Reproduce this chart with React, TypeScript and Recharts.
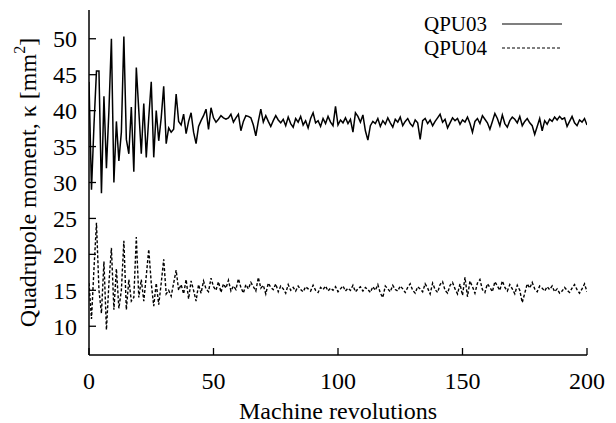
import React from 'react';
import { LineChart, Line, XAxis, YAxis, Label } from 'recharts';

const FONT = '"Liberation Serif", "Times New Roman", Times, serif';
const FS = 24;

const xTicks = [0, 50, 100, 150, 200];
const yTicks = [10, 15, 20, 25, 30, 35, 40, 45, 50];
const seriesNames = ['QPU03', 'QPU04'];

const qpu03Early = [
  44, 29, 38, 45.5, 45.5, 28.5, 42, 32, 40, 50,
  30, 38.5, 33, 37, 50.3, 36, 34, 40.5, 31.5, 46,
  40, 34, 41, 33.5, 39, 44, 33.5, 40, 35.8, 39,
  43.4, 35.4, 37.6, 37, 37.4, 42.3, 38.5, 38, 39.5, 36.8,
  38.5, 39.7, 37, 35.4, 37.8, 38.6, 39.3, 40.2, 37.4, 40.4,
  39, 38.4, 38.8, 39.3, 39, 38.8, 39, 39.5, 38.4, 39,
  39.5, 37.2, 38.5, 39.3, 39.2, 39, 38, 36.5, 38.5, 40.2,
  38.4, 39.3, 38.5, 37.8, 38.6, 39.3, 38.7, 38.3,
];
const qpu03Late = [
  38.8, 37.9, 39.1, 38.2, 37.7, 38.9, 38.4, 39.2, 38.0, 38.6,
  37.6, 38.9, 39.7, 38.3, 38.6, 37.8, 38.9, 38.2, 39.2, 38.4,
  37.9, 40.6, 38.0, 38.7, 38.3, 39.0, 38.2, 38.8, 37.0, 39.7,
  39.2, 38.4, 39.4, 37.2, 35.9, 37.9, 38.5, 38.2, 38.9, 37.8,
  38.6, 38.1, 39.0, 38.3, 37.7, 38.8, 38.4, 39.1, 37.9, 38.5,
  38.9, 38.2, 37.8, 38.7, 38.3, 36.0, 38.6, 38.9, 38.2, 38.7,
  37.9, 38.5, 39.0, 39.5, 38.4, 38.8, 37.6, 38.3, 39.0, 38.6,
  38.9, 38.1, 38.7, 38.4, 39.1, 38.2, 37.0, 38.5, 38.9, 38.2,
  39.3, 38.8, 38.3, 37.4, 38.5, 39.6, 38.9, 37.9, 39.4, 38.2,
  37.7, 38.6, 39.1, 38.8, 38.3, 39.2, 37.9, 38.5, 38.9, 38.3,
  37.9, 36.7, 37.8, 38.9, 37.2, 38.6, 38.1, 38.8, 38.5, 39.1,
  38.7, 39.2, 38.8, 39.0, 37.8, 38.5, 39.2, 38.3, 37.9, 38.7,
  38.4, 38.9, 38.0,
];
const qpu04Early = [
  16, 11, 18, 24.4, 15, 11.8, 19, 9.5, 16, 20.9,
  12.3, 18, 12.5, 15, 21.9, 12.3, 16.5, 13.5, 14, 22.4,
  14, 16.5, 13.5, 17, 20.7, 16, 12.8, 16, 13, 16,
  19.3, 14.5, 15, 14.2, 16, 17.8, 15, 15.8, 14.5, 16.5,
  13.8, 16.3, 15, 13.5,
];
const qpu04Late = [
  15.8, 14.6, 16.3, 15.2, 14.8, 16.7, 15.5, 15.0, 16.2, 14.7,
  15.9, 15.3, 16.4, 14.9, 15.6, 15.1, 16.6, 15.4, 14.6, 15.8,
  15.2, 16.1, 15.5, 14.9, 16.8, 15.3, 15.7, 14.5, 16.0, 15.4,
  15.1, 15.9, 14.8, 15.6, 15.2, 14.6, 15.8, 15.0, 15.4, 14.9,
  15.6, 15.1, 14.8, 15.5, 15.2, 14.9, 15.7, 15.0, 14.7, 15.4,
  15.1, 15.6, 14.9, 15.3, 15.0, 15.5, 14.8, 15.2, 15.6, 14.9,
  15.3, 15.0, 15.7, 14.8, 15.2, 15.5, 14.9, 15.4, 15.1, 14.7,
  15.5, 15.0, 15.8, 14.6, 14.0, 15.6, 15.2, 14.8, 15.7, 15.1,
  14.9, 15.6, 15.2, 14.7, 15.4, 15.9, 15.0, 14.6, 15.5, 15.2,
  14.8, 15.9, 15.3, 14.5, 16.0, 15.1, 14.7, 15.8, 16.2, 15.0,
  14.6, 15.7, 16.1, 15.2, 14.5, 15.9, 14.3, 16.8, 14.1, 16.3,
  15.5, 14.6, 16.0, 16.5, 15.1, 14.7, 15.9, 15.4, 14.8, 16.2,
  15.6, 15.0, 16.3, 15.4, 14.9, 15.8, 15.2, 14.5, 15.7, 15.0,
  13.3, 14.6, 15.9, 15.3, 16.1, 15.2, 14.8, 15.6, 15.3, 14.9,
  15.5, 15.1, 15.6, 14.8, 15.2, 14.6, 14.9, 15.4, 15.0, 14.7,
  15.3, 15.8, 15.1, 14.6, 15.2, 15.9, 14.8,
];

const qpu03 = [...qpu03Early, ...qpu03Late];
const qpu04 = [...qpu04Early, ...qpu04Late];
const revolutions = qpu03.map((_, i) => i);

const data = revolutions.map((r, i) => ({ rev: r, QPU03: qpu03[i], QPU04: qpu04[i] }));

const seriesStyle: Record<string, { dash?: string; width: number }> = {
  QPU03: { width: 1.5 },
  QPU04: { dash: '3 2', width: 1.4 },
};

const TICK_LEN = 7;

const BottomTick = (props: any) => {
  const { x, y, payload } = props;
  return (
    <g>
      <line x1={x} y1={y} x2={x} y2={y - TICK_LEN} stroke="#000" strokeWidth={1.3} />
      <text x={x} y={y + 34} textAnchor="middle" fontFamily={FONT} fontSize={FS} fill="#000">
        {payload.value}
      </text>
    </g>
  );
};

const TopTick = (props: any) => {
  const { x, y } = props;
  return <line x1={x} y1={y} x2={x} y2={y + TICK_LEN} stroke="#000" strokeWidth={1.3} />;
};

const LeftTick = (props: any) => {
  const { x, y, payload } = props;
  return (
    <g>
      <line x1={x} y1={y} x2={x + TICK_LEN} y2={y} stroke="#000" strokeWidth={1.3} />
      <text x={x - 12} y={y} dy="0.35em" textAnchor="end" fontFamily={FONT} fontSize={FS} fill="#000">
        {payload.value}
      </text>
    </g>
  );
};

const RightTick = (props: any) => {
  const { x, y } = props;
  return <line x1={x} y1={y} x2={x - TICK_LEN} y2={y} stroke="#000" strokeWidth={1.3} />;
};

const YTitle = (props: any) => {
  const vb = props.viewBox || { x: 0, y: 0, width: 0, height: 0 };
  const cx = 28;
  const cy = vb.y + vb.height / 2;
  return (
    <text
      x={cx}
      y={cy}
      transform={`rotate(-90 ${cx} ${cy})`}
      textAnchor="middle"
      dominantBaseline="central"
      fontFamily={FONT}
      fontSize={FS}
      fill="#000"
    >
      Quadrupole moment, κ [mm
      <tspan dy={-9} fontSize={16}>2</tspan>
      <tspan dy={9}>]</tspan>
    </text>
  );
};

const LegendBox = () => (
  <div
    style={{
      position: 'absolute',
      left: 330,
      top: 12,
      width: 232,
      fontFamily: FONT,
      fontSize: 21,
      color: '#000',
    }}
  >
    {seriesNames.map((name) => {
      const st = seriesStyle[name];
      return (
        <div
          key={name}
          style={{ display: 'flex', alignItems: 'center', justifyContent: 'flex-end', height: 24, lineHeight: '24px' }}
        >
          <span>{name}</span>
          <svg width={60} height={10} style={{ marginLeft: 15 }}>
            <line x1={0} y1={5} x2={60} y2={5} stroke="#000" strokeWidth={st.width * 0.75} strokeDasharray={st.dash} />
          </svg>
        </div>
      );
    })}
  </div>
);

export default function App() {
  return (
    <div style={{ position: 'absolute', left: 0, top: 0, width: 616, height: 423, background: '#fff' }}>
      <LineChart width={616} height={423} data={data} margin={{ top: 10, right: 29, bottom: 0, left: 0 }}>
        <XAxis
          xAxisId="b"
          dataKey="rev"
          type="number"
          domain={[0, 200]}
          allowDataOverflow
          ticks={xTicks}
          interval={0}
          height={68}
          tickSize={0}
          tickMargin={0}
          tickLine={false}
          axisLine={{ stroke: '#000', strokeWidth: 1.5 }}
          tick={BottomTick}
        >
          <Label
            value="Machine revolutions"
            position="insideBottom"
            offset={4}
            style={{ fontFamily: FONT, fontSize: FS, fill: '#000' }}
          />
        </XAxis>
        <XAxis
          xAxisId="t"
          orientation="top"
          dataKey="rev"
          type="number"
          domain={[0, 200]}
          allowDataOverflow
          ticks={xTicks}
          interval={0}
          height={0}
          tickSize={0}
          tickMargin={0}
          tickLine={false}
          axisLine={{ stroke: '#000', strokeWidth: 1.5 }}
          tick={TopTick}
        />
        <YAxis
          yAxisId="l"
          type="number"
          domain={[6, 54]}
          allowDataOverflow
          ticks={yTicks}
          interval={0}
          width={89}
          tickSize={0}
          tickMargin={0}
          tickLine={false}
          axisLine={{ stroke: '#000', strokeWidth: 1.5 }}
          tick={LeftTick}
          label={<YTitle />}
        />
        <YAxis
          yAxisId="r"
          orientation="right"
          type="number"
          domain={[6, 54]}
          allowDataOverflow
          ticks={yTicks}
          interval={0}
          width={0}
          tickSize={0}
          tickMargin={0}
          tickLine={false}
          axisLine={{ stroke: '#000', strokeWidth: 1.5 }}
          tick={RightTick}
        />
        <Line
          xAxisId="b"
          yAxisId="l"
          type="linear"
          dataKey="QPU03"
          stroke="#000"
          strokeWidth={seriesStyle.QPU03.width}
          dot={false}
          isAnimationActive={false}
        />
        <Line
          xAxisId="b"
          yAxisId="l"
          type="linear"
          dataKey="QPU04"
          stroke="#000"
          strokeWidth={seriesStyle.QPU04.width}
          strokeDasharray={seriesStyle.QPU04.dash}
          dot={false}
          isAnimationActive={false}
        />
      </LineChart>
      <LegendBox />
    </div>
  );
}
